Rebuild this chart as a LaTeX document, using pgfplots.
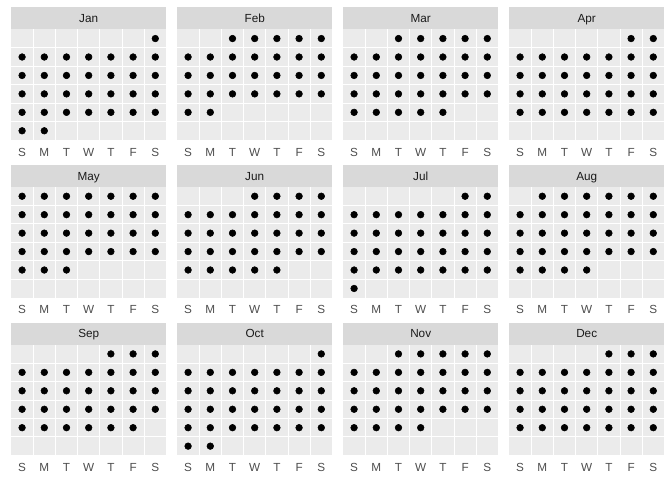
\documentclass[border=0pt]{standalone}
\usepackage{fontspec}
\setmainfont{Liberation Sans}
\usepackage{pgfplots}
\pgfplotsset{compat=1.18}
\usepgfplotslibrary{groupplots}
\definecolor{panelbg}{HTML}{EBEBEB}
\definecolor{stripbg}{HTML}{D9D9D9}
\definecolor{ticktext}{HTML}{4D4D4D}
\definecolor{striptext}{HTML}{1A1A1A}
\pgfplotsset{daydot/.style={only marks, mark=*, mark size=2.5pt, color=black, mark options={solid, draw=black, fill=black}}}
\newcommand\strip[1]{%
  \fill[stripbg] (rel axis cs:0,1) rectangle ([yshift=16.5pt]rel axis cs:1,1);
  \node[anchor=base, inner sep=0pt, text=striptext, font=\fontsize{8.8}{10}\selectfont] at ([yshift=5.1pt]rel axis cs:0.5,1) {#1};
}
\begin{document}
\begin{tikzpicture}
\begin{groupplot}[
  group style={group size=4 by 3, horizontal sep=7.95pt, vertical sep=35.25pt},
  width=116.55pt, height=83pt, scale only axis,
  xmin=0.5, xmax=7.5, ymin=0.5, ymax=6.5,
  xtick={1,2,3,4,5,6,7}, xticklabels={S,M,T,W,T,F,S},
  ytick={1,2,3,4,5,6}, yticklabels={},
  minor xtick={1.5,2.5,3.5,4.5,5.5,6.5},
  minor ytick={1.5,2.5,3.5,4.5,5.5},
  xminorgrids=true, yminorgrids=true,
  xmajorgrids=false, ymajorgrids=false,
  minor grid style={white, line width=0.7pt},
  major tick length=0pt, minor tick length=0pt,
  axis line style={draw=none},
  axis background/.style={fill=panelbg},
  xticklabel style={anchor=base, yshift=-12pt, inner sep=0pt, text=ticktext, font=\fontsize{8.8}{10}\selectfont},
  clip=false,
]
% Jan
\nextgroupplot
\addplot[daydot] coordinates {(7,6)
(1,5)(2,5)(3,5)(4,5)(5,5)(6,5)(7,5)
(1,4)(2,4)(3,4)(4,4)(5,4)(6,4)(7,4)
(1,3)(2,3)(3,3)(4,3)(5,3)(6,3)(7,3)
(1,2)(2,2)(3,2)(4,2)(5,2)(6,2)(7,2)
(1,1)(2,1)};
\strip{Jan}
% Feb
\nextgroupplot
\addplot[daydot] coordinates {(3,6)(4,6)(5,6)(6,6)(7,6)
(1,5)(2,5)(3,5)(4,5)(5,5)(6,5)(7,5)
(1,4)(2,4)(3,4)(4,4)(5,4)(6,4)(7,4)
(1,3)(2,3)(3,3)(4,3)(5,3)(6,3)(7,3)
(1,2)(2,2)};
\strip{Feb}
% Mar
\nextgroupplot
\addplot[daydot] coordinates {(3,6)(4,6)(5,6)(6,6)(7,6)
(1,5)(2,5)(3,5)(4,5)(5,5)(6,5)(7,5)
(1,4)(2,4)(3,4)(4,4)(5,4)(6,4)(7,4)
(1,3)(2,3)(3,3)(4,3)(5,3)(6,3)(7,3)
(1,2)(2,2)(3,2)(4,2)(5,2)};
\strip{Mar}
% Apr
\nextgroupplot
\addplot[daydot] coordinates {(6,6)(7,6)
(1,5)(2,5)(3,5)(4,5)(5,5)(6,5)(7,5)
(1,4)(2,4)(3,4)(4,4)(5,4)(6,4)(7,4)
(1,3)(2,3)(3,3)(4,3)(5,3)(6,3)(7,3)
(1,2)(2,2)(3,2)(4,2)(5,2)(6,2)(7,2)};
\strip{Apr}
% May
\nextgroupplot
\addplot[daydot] coordinates {(1,6)(2,6)(3,6)(4,6)(5,6)(6,6)(7,6)
(1,5)(2,5)(3,5)(4,5)(5,5)(6,5)(7,5)
(1,4)(2,4)(3,4)(4,4)(5,4)(6,4)(7,4)
(1,3)(2,3)(3,3)(4,3)(5,3)(6,3)(7,3)
(1,2)(2,2)(3,2)};
\strip{May}
% Jun
\nextgroupplot
\addplot[daydot] coordinates {(4,6)(5,6)(6,6)(7,6)
(1,5)(2,5)(3,5)(4,5)(5,5)(6,5)(7,5)
(1,4)(2,4)(3,4)(4,4)(5,4)(6,4)(7,4)
(1,3)(2,3)(3,3)(4,3)(5,3)(6,3)(7,3)
(1,2)(2,2)(3,2)(4,2)(5,2)};
\strip{Jun}
% Jul
\nextgroupplot
\addplot[daydot] coordinates {(6,6)(7,6)
(1,5)(2,5)(3,5)(4,5)(5,5)(6,5)(7,5)
(1,4)(2,4)(3,4)(4,4)(5,4)(6,4)(7,4)
(1,3)(2,3)(3,3)(4,3)(5,3)(6,3)(7,3)
(1,2)(2,2)(3,2)(4,2)(5,2)(6,2)(7,2)
(1,1)};
\strip{Jul}
% Aug
\nextgroupplot
\addplot[daydot] coordinates {(2,6)(3,6)(4,6)(5,6)(6,6)(7,6)
(1,5)(2,5)(3,5)(4,5)(5,5)(6,5)(7,5)
(1,4)(2,4)(3,4)(4,4)(5,4)(6,4)(7,4)
(1,3)(2,3)(3,3)(4,3)(5,3)(6,3)(7,3)
(1,2)(2,2)(3,2)(4,2)};
\strip{Aug}
% Sep
\nextgroupplot
\addplot[daydot] coordinates {(5,6)(6,6)(7,6)
(1,5)(2,5)(3,5)(4,5)(5,5)(6,5)(7,5)
(1,4)(2,4)(3,4)(4,4)(5,4)(6,4)(7,4)
(1,3)(2,3)(3,3)(4,3)(5,3)(6,3)(7,3)
(1,2)(2,2)(3,2)(4,2)(5,2)(6,2)};
\strip{Sep}
% Oct
\nextgroupplot
\addplot[daydot] coordinates {(7,6)
(1,5)(2,5)(3,5)(4,5)(5,5)(6,5)(7,5)
(1,4)(2,4)(3,4)(4,4)(5,4)(6,4)(7,4)
(1,3)(2,3)(3,3)(4,3)(5,3)(6,3)(7,3)
(1,2)(2,2)(3,2)(4,2)(5,2)(6,2)(7,2)
(1,1)(2,1)};
\strip{Oct}
% Nov
\nextgroupplot
\addplot[daydot] coordinates {(3,6)(4,6)(5,6)(6,6)(7,6)
(1,5)(2,5)(3,5)(4,5)(5,5)(6,5)(7,5)
(1,4)(2,4)(3,4)(4,4)(5,4)(6,4)(7,4)
(1,3)(2,3)(3,3)(4,3)(5,3)(6,3)(7,3)
(1,2)(2,2)(3,2)(4,2)};
\strip{Nov}
% Dec
\nextgroupplot
\addplot[daydot] coordinates {(5,6)(6,6)(7,6)
(1,5)(2,5)(3,5)(4,5)(5,5)(6,5)(7,5)
(1,4)(2,4)(3,4)(4,4)(5,4)(6,4)(7,4)
(1,3)(2,3)(3,3)(4,3)(5,3)(6,3)(7,3)
(1,2)(2,2)(3,2)(4,2)(5,2)(6,2)(7,2)};
\strip{Dec}
\end{groupplot}
\path ([xshift=-8.25pt,yshift=22pt]group c1r1.north west) rectangle ([xshift=5.7pt,yshift=-18.5pt]group c4r3.south east);
\end{tikzpicture}
\end{document}
